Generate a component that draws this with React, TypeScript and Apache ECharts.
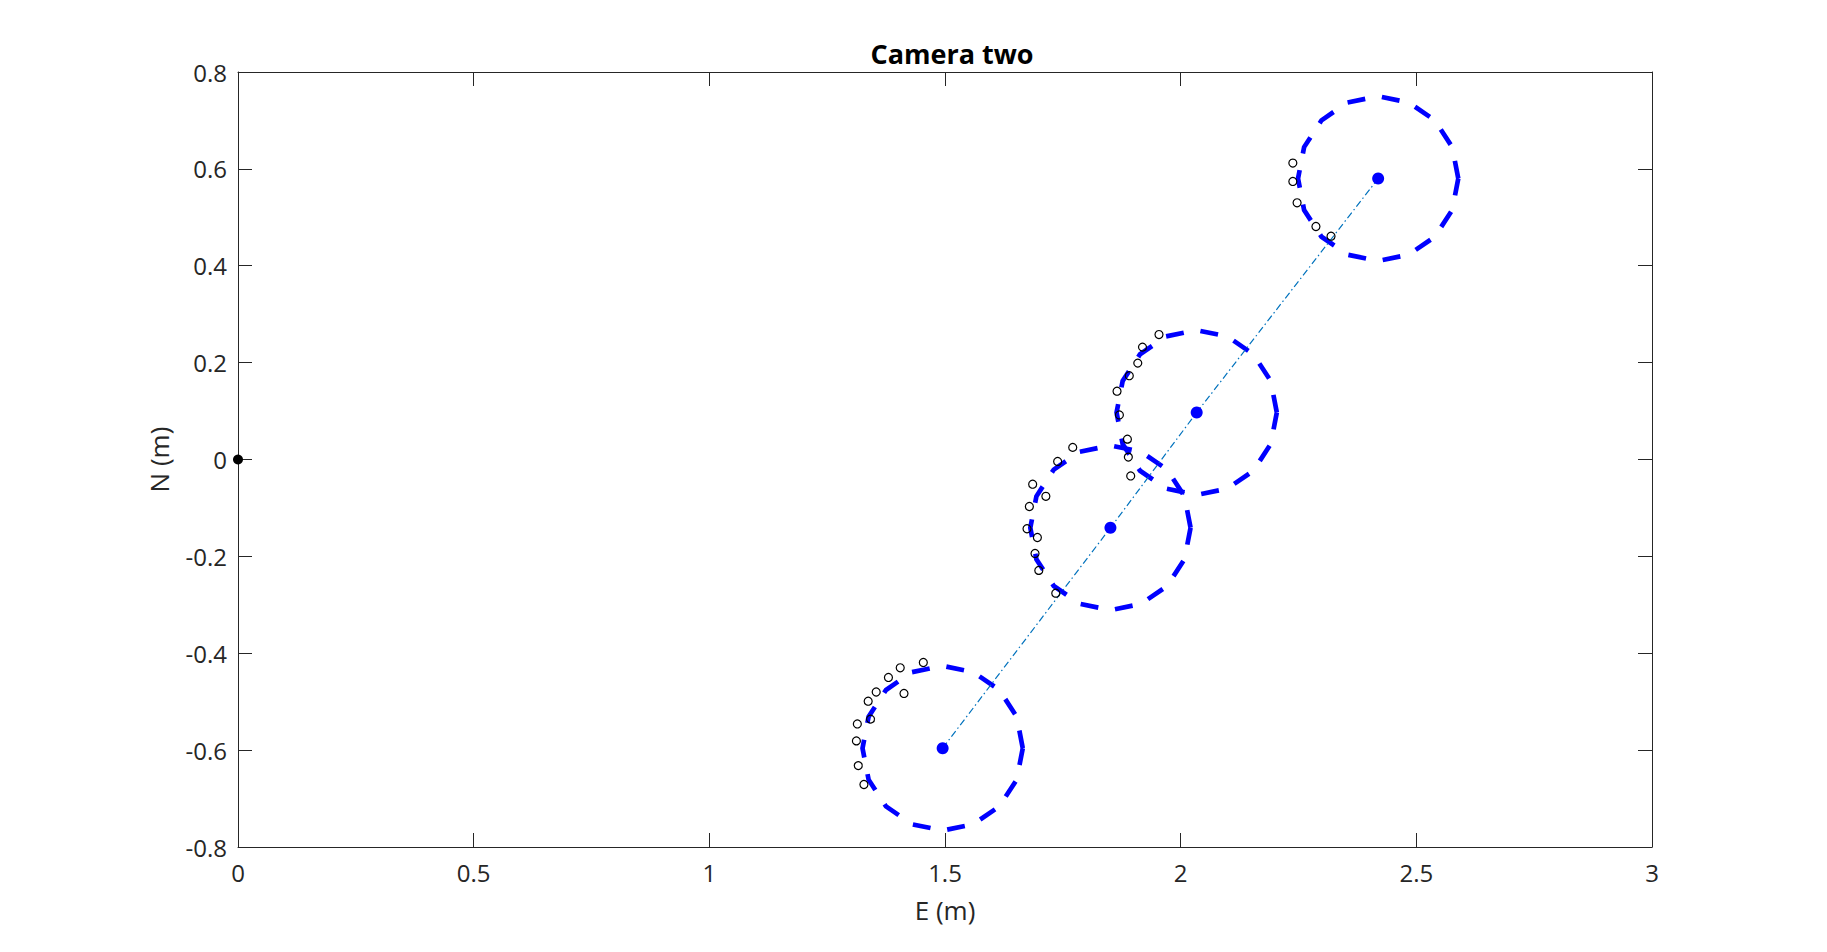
import React, { useEffect, useRef } from "react";
import * as echarts from "echarts";

// Axes
const xMin = 0;
const xMax = 3;
const xStep = 0.5;
const yMin = -0.8;
const yMax = 0.8;
const yStep = 0.2;

// Camera position estimates (centres of the uncertainty circles)
const centerE = [1.495, 1.851, 2.034, 2.419];
const centerN = [-0.596, -0.141, 0.097, 0.58];
const circleRadius = 0.17;
const polygonSides = 16;

// Origin marker
const originE = [0];
const originN = [0];

// Observed points (open circles)
const obsE = [
  2.238, 2.238, 2.247, 2.287, 2.319,
  1.954, 1.919, 1.909, 1.891, 1.865, 1.87, 1.887, 1.889, 1.894,
  1.771, 1.739, 1.686, 1.714, 1.679, 1.674, 1.696, 1.691, 1.699, 1.735,
  1.454, 1.405, 1.38, 1.413, 1.354, 1.337, 1.342, 1.314, 1.312, 1.316, 1.328,
];
const obsN = [
  0.612, 0.574, 0.53, 0.481, 0.461,
  0.258, 0.232, 0.199, 0.173, 0.141, 0.092, 0.042, 0.005, -0.034,
  0.025, -0.004, -0.051, -0.076, -0.097, -0.143, -0.161, -0.194, -0.229, -0.276,
  -0.419, -0.43, -0.45, -0.483, -0.48, -0.499, -0.536, -0.546, -0.581, -0.632, -0.671,
];

const FONT = "'Open Sans', 'Noto Sans', sans-serif";
const AXIS_COLOR = "#262626";

function circlePolygon(cx: number, cy: number, r: number, n: number) {
  const pts: number[][] = [];
  for (let i = 0; i <= n; i++) {
    const t = (2 * Math.PI * i) / n;
    pts.push([cx + r * Math.cos(t), cy + r * Math.sin(t)]);
  }
  return pts;
}

export default function App() {
  const ref = useRef<HTMLDivElement>(null);

  useEffect(() => {
    document.body.style.margin = "0";
    const chart = echarts.init(ref.current!, null, { renderer: "svg" });

    const circleSeries = centerE.map((e, i) => ({
      type: "line",
      data: circlePolygon(e, centerN[i], circleRadius, polygonSides),
      showSymbol: false,
      symbol: "none",
      silent: true,
      z: 2,
      lineStyle: {
        color: "#0000ff",
        width: 4.7,
        type: [18, 17],
        cap: "butt",
        join: "miter",
      },
    }));

    const axisCommon = {
      axisLine: { show: true, onZero: false, lineStyle: { color: AXIS_COLOR, width: 1 } },
      axisTick: { show: true, inside: true, length: 14, lineStyle: { color: AXIS_COLOR, width: 1 } },
      splitLine: { show: false },
    };

    chart.setOption({
      animation: false,
      backgroundColor: "#ffffff",
      title: {
        text: "Camera two",
        left: 947,
        top: 35,
        textAlign: "center",
        textStyle: { fontFamily: FONT, fontSize: 27, fontWeight: "bold", color: "#000000" },
      },
      grid: { left: 238, right: 175, top: 72, bottom: 105, containLabel: false },
      xAxis: [
        {
          type: "value",
          min: xMin,
          max: xMax,
          interval: xStep,
          position: "bottom",
          ...axisCommon,
          axisLabel: { color: AXIS_COLOR, fontSize: 24, fontFamily: FONT, margin: 13 },
          name: "E (m)",
          nameLocation: "middle",
          nameGap: 50,
          nameTextStyle: { color: AXIS_COLOR, fontSize: 26, fontFamily: FONT },
        },
        {
          type: "value",
          min: xMin,
          max: xMax,
          interval: xStep,
          position: "top",
          ...axisCommon,
          axisLabel: { show: false },
        },
      ],
      yAxis: [
        {
          type: "value",
          min: yMin,
          max: yMax,
          interval: yStep,
          position: "left",
          ...axisCommon,
          axisLabel: { color: AXIS_COLOR, fontSize: 24, fontFamily: FONT, margin: 11 },
          name: "N (m)",
          nameLocation: "middle",
          nameGap: 66,
          nameTextStyle: { color: AXIS_COLOR, fontSize: 26, fontFamily: FONT },
        },
        {
          type: "value",
          min: yMin,
          max: yMax,
          interval: yStep,
          position: "right",
          ...axisCommon,
          axisLabel: { show: false },
        },
      ],
      series: [
        ...circleSeries,
        {
          type: "line",
          data: centerE.map((e, i) => [e, centerN[i]]),
          showSymbol: false,
          symbol: "none",
          silent: true,
          z: 3,
          lineStyle: { color: "#0072BD", width: 1.2, type: [7, 3, 1.5, 3] },
        },
        {
          type: "scatter",
          data: centerE.map((e, i) => [e, centerN[i]]),
          symbol: "circle",
          symbolSize: 12,
          silent: true,
          z: 4,
          itemStyle: { color: "#0000ff", opacity: 1 },
        },
        {
          type: "scatter",
          data: originE.map((e, i) => [e, originN[i]]),
          symbol: "circle",
          symbolSize: 10,
          clip: false,
          silent: true,
          z: 5,
          itemStyle: { color: "#000000", opacity: 1 },
        },
        {
          type: "scatter",
          data: obsE.map((e, i) => [e, obsN[i]]),
          symbol: "circle",
          symbolSize: 8,
          silent: true,
          z: 6,
          itemStyle: { color: "rgba(0,0,0,0)", borderColor: "#000000", borderWidth: 1.2, opacity: 1 },
        },
      ],
    });

    return () => chart.dispose();
  }, []);

  return <div ref={ref} style={{ width: 1827, height: 952 }} />;
}
